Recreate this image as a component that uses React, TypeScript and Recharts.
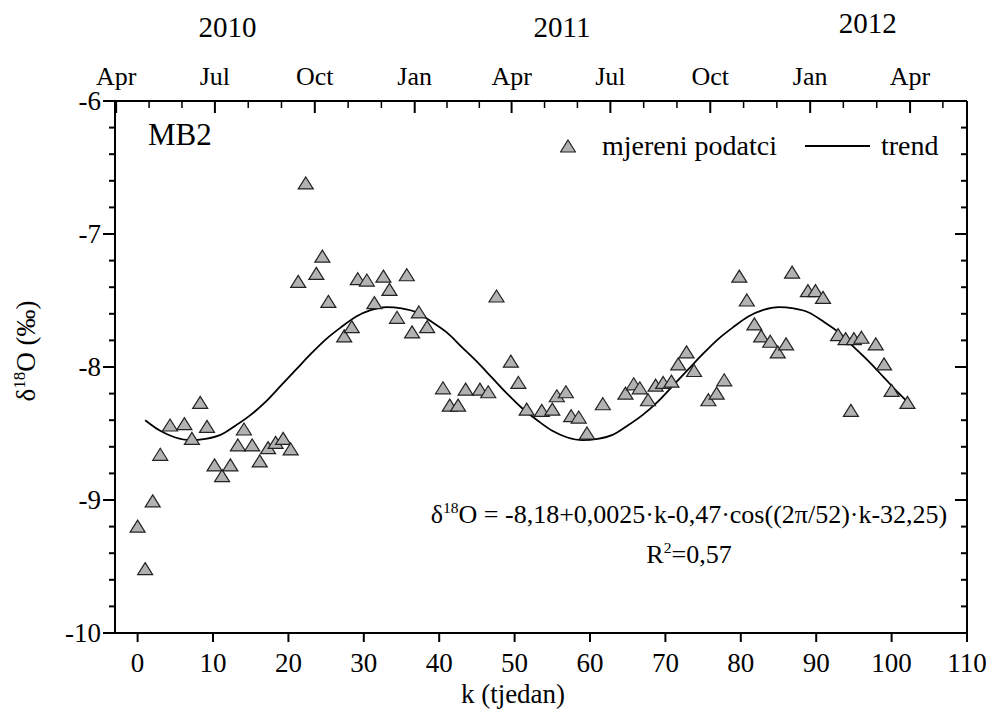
import React from 'react';
import { ComposedChart, Scatter, Line, XAxis, YAxis, Legend } from 'recharts';

const FONT = 'Liberation Serif';

// measured samples: week k and δ18O (‰)
const weeks = [
  0, 1, 2, 3, 4.3, 6.2, 7.2, 8.3, 9.2, 10.2, 11.2, 12.3, 13.3, 14.1, 15.2, 16.2, 17.3, 18.3, 19.3, 20.3,
  21.3, 22.3, 23.7, 24.5, 25.3, 27.4, 28.4, 29.2, 30.4, 31.4, 32.6, 33.4, 34.4, 35.7, 36.4, 37.3, 38.4,
  40.5, 41.4, 42.5, 43.5, 45.4, 46.5, 47.6, 49.5, 50.5, 51.6, 53.6, 55.0, 55.6, 56.8, 57.5, 58.5, 59.6,
  61.7, 64.7, 65.8, 66.6, 67.7, 68.7, 69.7, 70.8, 71.7, 72.8, 73.8, 75.7, 76.8, 77.8, 79.8, 80.8, 81.8,
  82.7, 83.9, 84.9, 86.0, 86.8, 88.9, 89.9, 90.9, 92.9, 93.9, 94.6, 95.0, 96.0, 97.9, 99.0, 100.0, 102.1,
];
const delta = [
  -9.2, -9.52, -9.01, -8.66, -8.44, -8.43, -8.54, -8.27, -8.45, -8.74, -8.82, -8.74, -8.59, -8.47, -8.59, -8.71, -8.61, -8.57, -8.54, -8.62,
  -7.36, -6.62, -7.3, -7.17, -7.51, -7.77, -7.7, -7.34, -7.35, -7.52, -7.32, -7.42, -7.63, -7.31, -7.74, -7.59, -7.7,
  -8.16, -8.29, -8.29, -8.17, -8.17, -8.19, -7.47, -7.96, -8.12, -8.32, -8.33, -8.32, -8.22, -8.19, -8.37, -8.38, -8.5,
  -8.28, -8.2, -8.13, -8.16, -8.25, -8.14, -8.12, -8.11, -7.98, -7.89, -8.03, -8.25, -8.2, -8.1, -7.32, -7.5, -7.68,
  -7.77, -7.81, -7.89, -7.83, -7.29, -7.43, -7.43, -7.48, -7.76, -7.79, -8.33, -7.79, -7.78, -7.83, -7.98, -8.18, -8.27,
];

// trend curve
const trendWeeks = [
  1, 3, 5, 7, 9, 11, 13, 15, 17, 19, 21, 23, 25, 27, 29, 31, 33, 35, 37, 39, 41, 43, 45, 47, 49, 51,
  53, 55, 57, 59, 61, 63, 65, 67, 69, 71, 73, 75, 77, 79, 81, 83, 85, 87, 89, 91, 93, 95, 97, 99, 101, 103,
];
const trendValues = [
  -8.4, -8.48, -8.53, -8.55, -8.54, -8.51, -8.44, -8.36, -8.26, -8.14, -8.02, -7.9, -7.79, -7.7, -7.62, -7.57, -7.55, -7.56, -7.59, -7.66, -7.74, -7.85, -7.96, -8.08, -8.2, -8.31,
  -8.4, -8.48, -8.53, -8.55, -8.54, -8.51, -8.44, -8.36, -8.26, -8.14, -8.02, -7.9, -7.79, -7.7, -7.62, -7.57, -7.55, -7.56, -7.59, -7.66, -7.74, -7.85, -7.96, -8.08, -8.2, -8.31,
];

const kTicks = [0, 10, 20, 30, 40, 50, 60, 70, 80, 90, 100, 110];
const yTicks = [-10, -9.8, -9.6, -9.4, -9.2, -9, -8.8, -8.6, -8.4, -8.2, -8, -7.8, -7.6, -7.4, -7.2, -7, -6.8, -6.6, -6.4, -6.2, -6];
const yLabels = [-10, -9, -8, -7, -6];

// calendar axis on top (k position of each month)
const monthTicks = [-2.85, 10.25, 23.5, 36.75, 49.6, 62.7, 75.95, 89.2, 102.45];
const monthLabels = ['Apr', 'Jul', 'Oct', 'Jan', 'Apr', 'Jul', 'Oct', 'Jan', 'Apr'];
const monthMinor = [1.52, 5.88, 14.67, 19.08, 27.92, 32.33, 41.03, 45.32, 53.97, 58.33, 67.12, 71.53, 80.37, 84.78, 93.6, 98.03, 106.8];
const yearTicks = [11.92, 56.29, 96.82];
const yearLabels = ['2010', '2011', '2012'];

const topTicks = [...monthTicks, ...monthMinor, ...yearTicks].sort((a, b) => a - b);

const measured = weeks.map((k, i) => ({ k, v: delta[i] }));
const trend = trendWeeks.map((k, i) => ({ k, v: trendValues[i] }));

const Triangle = ({ cx, cy }: any) => (
  <polygon
    points={`${cx},${cy - 6.5} ${cx + 7.5},${cy + 5.5} ${cx - 7.5},${cy + 5.5}`}
    fill="#b2b2b2"
    stroke="#222"
    strokeWidth={1.2}
  />
);

const TopTick = ({ x, y, payload }: any) => {
  const v = payload.value;
  const yi = yearTicks.indexOf(v);
  if (yi >= 0) {
    // the last year label sits a little higher in the original
    const lift = yi === yearTicks.length - 1 ? 4 : 0;
    return (
      <text x={x} y={y - 64 - lift} textAnchor="middle" fontFamily={FONT} fontSize={29} fill="#000">
        {yearLabels[yi]}
      </text>
    );
  }
  const mi = monthTicks.indexOf(v);
  if (mi >= 0) {
    return (
      <g>
        <line x1={x} x2={x} y1={y} y2={y + 12} stroke="#000" strokeWidth={2} />
        <text x={x} y={y - 16} textAnchor="middle" fontFamily={FONT} fontSize={26} fill="#000">
          {monthLabels[mi]}
        </text>
      </g>
    );
  }
  return <line x1={x} x2={x} y1={y} y2={y + 7} stroke="#000" strokeWidth={1.5} />;
};

const BottomTick = ({ x, y, payload }: any) => (
  <g>
    <line x1={x} x2={x} y1={y} y2={y + 9} stroke="#000" strokeWidth={2} />
    <text x={x} y={y + 39} textAnchor="middle" fontFamily={FONT} fontSize={27} fill="#000">
      {payload.value}
    </text>
  </g>
);

const LeftTick = ({ x, y, payload }: any) => {
  const major = yLabels.includes(payload.value);
  return (
    <g>
      <line x1={x - (major ? 12 : 6)} x2={x} y1={y} y2={y} stroke="#000" strokeWidth={2} />
      {major && (
        <text x={x - 14} y={y + 9} textAnchor="end" fontFamily={FONT} fontSize={27} fill="#000">
          {payload.value}
        </text>
      )}
    </g>
  );
};

const RightTick = ({ x, y, payload }: any) => {
  const major = yLabels.includes(payload.value);
  return <line x1={x - (major ? 12 : 6)} x2={x} y1={y} y2={y} stroke="#000" strokeWidth={2} />;
};

const YTitle = ({ viewBox }: any) => {
  const cx = viewBox.x + 20;
  const cy = viewBox.y + viewBox.height / 2 - 16;
  return (
    <text x={cx} y={cy} transform={`rotate(-90, ${cx}, ${cy})`} textAnchor="middle" fontFamily={FONT} fontSize={27} fill="#000">
      δ<tspan dy={-10} fontSize={17}>18</tspan>
      <tspan dy={10}>O (‰)</tspan>
    </text>
  );
};

const XTitle = ({ viewBox }: any) => (
  <text x={viewBox.x + viewBox.width / 2 - 28} y={viewBox.y + 70} textAnchor="middle" fontFamily={FONT} fontSize={27} fill="#000">
    k (tjedan)
  </text>
);

const LegendBox = () => (
  <div style={{ display: 'flex', alignItems: 'center', fontFamily: FONT, fontSize: 28, color: '#000', whiteSpace: 'nowrap' }}>
    <svg width={16} height={14}>
      <polygon points="8,1 15.5,13 0.5,13" fill="#b2b2b2" stroke="#222" strokeWidth={1.2} />
    </svg>
    <span style={{ marginLeft: 26 }}>mjereni podatci</span>
    <svg width={65} height={4} style={{ marginLeft: 28 }}>
      <line x1={0} x2={65} y1={2} y2={2} stroke="#000" strokeWidth={1.8} />
    </svg>
    <span style={{ marginLeft: 11 }}>trend</span>
  </div>
);

const sup: React.CSSProperties = { fontSize: '0.6em', position: 'relative', top: '-0.65em' };

export default function App() {
  return (
    <div style={{ position: 'absolute', left: 0, top: 0, width: 992, height: 713, background: '#fff', fontFamily: FONT }}>
      <ComposedChart width={992} height={713} margin={{ top: 1, right: 5, bottom: 5, left: 15 }}>
        <XAxis
          xAxisId="bottom"
          dataKey="k"
          type="number"
          domain={[-3, 110]}
          allowDataOverflow
          ticks={kTicks}
          interval={0}
          height={75}
          tickSize={0}
          tickMargin={0}
          tick={<BottomTick />}
          axisLine={{ stroke: '#000', strokeWidth: 2 }}
          label={{ content: <XTitle /> }}
        />
        <XAxis
          xAxisId="top"
          dataKey="k"
          orientation="top"
          type="number"
          domain={[-3, 110]}
          allowDataOverflow
          ticks={topTicks}
          interval={0}
          height={100}
          tickSize={0}
          tickMargin={0}
          tick={<TopTick />}
          axisLine={{ stroke: '#000', strokeWidth: 2 }}
        />
        <YAxis
          yAxisId="left"
          dataKey="v"
          type="number"
          domain={[-10, -6]}
          allowDataOverflow
          ticks={yTicks}
          interval={0}
          width={100}
          tickSize={0}
          tickMargin={0}
          tick={<LeftTick />}
          axisLine={{ stroke: '#000', strokeWidth: 2 }}
          label={{ content: <YTitle /> }}
        />
        <YAxis
          yAxisId="right"
          orientation="right"
          type="number"
          domain={[-10, -6]}
          allowDataOverflow
          ticks={yTicks}
          interval={0}
          width={20}
          tickSize={0}
          tickMargin={0}
          tick={<RightTick />}
          axisLine={{ stroke: '#000', strokeWidth: 2 }}
        />
        <Legend
          layout="vertical"
          align="center"
          verticalAlign="middle"
          content={<LegendBox />}
          wrapperStyle={{ top: 130, left: 560, width: 410 }}
        />
        <Line
          xAxisId="bottom"
          yAxisId="left"
          data={trend}
          dataKey="v"
          type="monotone"
          stroke="#000"
          strokeWidth={1.8}
          dot={false}
          activeDot={false}
          isAnimationActive={false}
        />
        <Scatter
          xAxisId="top"
          yAxisId="right"
          data={measured}
          dataKey="v"
          shape={<Triangle />}
          isAnimationActive={false}
        />
      </ComposedChart>
      <div style={{ position: 'absolute', left: 148, top: 117, fontFamily: FONT, fontSize: 31 }}>MB2</div>
      <div
        style={{
          position: 'absolute',
          left: 424,
          top: 496,
          width: 530,
          textAlign: 'center',
          fontFamily: FONT,
          fontSize: 26,
          lineHeight: '37px',
        }}
      >
        δ<span style={sup}>18</span>O = -8,18+0,0025·k-0,47·cos((2π/52)·k-32,25)
        <br />
        R<span style={sup}>2</span>=0,57
      </div>
    </div>
  );
}
